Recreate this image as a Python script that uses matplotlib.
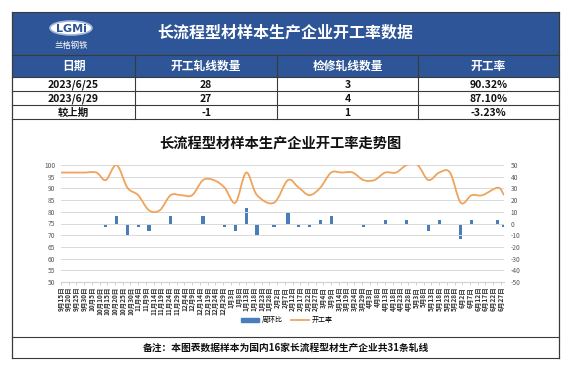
import matplotlib
matplotlib.use('Agg')
import matplotlib.pyplot as plt
import matplotlib.dates as mdates
from matplotlib.path import Path
from matplotlib.patches import PathPatch, Rectangle, Ellipse
from matplotlib.lines import Line2D
import pandas as pd

plt.rcParams['font.family'] = ['Noto Sans CJK SC', 'DejaVu Sans']

# ---- table data ----
table_title = '长流程型材样本生产企业开工率数据'
col_headers = ['日期', '开工轧线数量', '检修轧线数量', '开工率']
row_dates = ['2023/6/25', '2023/6/29', '较上期']
running_lines = ['28', '27', '-1']
repair_lines = ['3', '4', '1']
rate_text = ['90.32%', '87.10%', '-3.23%']

chart_title = '长流程型材样本生产企业开工率走势图'
note = '备注：本图表数据样本为国内16家长流程型材生产企业共31条轧线'

# ---- chart data ----
dates = ['2022-09-15', '2022-09-23', '2022-09-30', '2022-10-08', '2022-10-14',
         '2022-10-21', '2022-10-28', '2022-11-04', '2022-11-11', '2022-11-18',
         '2022-11-25', '2022-12-02', '2022-12-09', '2022-12-16', '2022-12-23',
         '2022-12-30', '2023-01-06', '2023-01-13', '2023-01-20', '2023-01-31',
         '2023-02-09', '2023-02-16', '2023-02-23', '2023-03-02', '2023-03-09',
         '2023-03-16', '2023-03-23', '2023-03-30', '2023-04-06', '2023-04-13',
         '2023-04-20', '2023-04-27', '2023-05-04', '2023-05-11', '2023-05-18',
         '2023-05-25', '2023-06-01', '2023-06-08', '2023-06-15', '2023-06-25',
         '2023-06-29']
rate = [96.77, 96.77, 96.77, 96.77, 93.55,
        100.0, 90.32, 87.10, 80.65, 80.65,
        87.10, 87.10, 87.10, 93.55, 93.55,
        90.32, 83.87, 96.77, 87.10, 83.87,
        93.55, 90.32, 87.10, 90.32, 96.77,
        96.77, 96.77, 93.55, 93.55, 96.77,
        96.77, 100.0, 100.0, 93.55, 96.77,
        96.77, 83.87, 87.10, 87.10, 90.32,
        87.10]
wow = [0, 0, 0, 0, -3.23,
       6.45, -9.68, -3.23, -6.45, 0,
       6.45, 0, 0, 6.45, 0,
       -3.23, -6.45, 12.90, -9.68, -3.23,
       9.68, -3.23, -3.23, 3.23, 6.45,
       0, 0, -3.23, 0, 3.23,
       0, 3.23, 0, -6.45, 3.23,
       0, -12.90, 3.23, 0, 3.23,
       -3.23]

W, H = 570, 367
BLUE = '#2d5597'
BORDER = '#3a3a3a'
BAR_C = '#4a7ebb'
LINE_C = '#f0a35a'


def smooth_path(x, y):
    # excel-style smoothed line: cubic bezier through every point
    n = len(x)
    verts = [(x[0], y[0])]
    codes = [Path.MOVETO]
    for i in range(n - 1):
        xp, yp = (x[i - 1], y[i - 1]) if i > 0 else (x[i], y[i])
        xn, yn = (x[i + 2], y[i + 2]) if i + 2 < n else (x[i + 1], y[i + 1])
        c1 = (x[i] + (x[i + 1] - xp) / 6, y[i] + (y[i + 1] - yp) / 6)
        c2 = (x[i + 1] - (xn - x[i]) / 6, y[i + 1] - (yn - y[i]) / 6)
        verts += [c1, c2, (x[i + 1], y[i + 1])]
        codes += [Path.CURVE4] * 3
    return Path(verts, codes)


fig = plt.figure(figsize=(W / 100, H / 100), dpi=100)

# background canvas in pixel units
bg = fig.add_axes([0, 0, 1, 1])
bg.set_xlim(0, W)
bg.set_ylim(H, 0)
bg.axis('off')

cols = [12, 135, 277, 418, 559]
bg.add_patch(Rectangle((12, 12), 547, 43, color=BLUE, lw=0))
bg.add_patch(Rectangle((12, 55), 547, 22, color=BLUE, lw=0))

# logo
bg.add_patch(Ellipse((71, 28), 42, 14, facecolor='white', edgecolor='#9fb6d9', lw=1.2))
bg.text(71, 28.5, 'LGMi', color=BLUE, fontsize=8, fontweight='bold',
        ha='center', va='center', family=['DejaVu Sans'])
bg.text(71, 45.5, '兰格钢铁', color='white', fontsize=6, style='italic',
        ha='center', va='center')

bg.text(285, 33, table_title, color='white', fontsize=11.5, fontweight='bold',
        ha='center', va='center')

centers = [(cols[i] + cols[i + 1]) / 2 for i in range(4)]
for cx, h in zip(centers, col_headers):
    bg.text(cx, 66.5, h, color='white', fontsize=8.5, fontweight='bold',
            ha='center', va='center')

row_y = [77, 91, 105, 119]
for r in range(3):
    cy = (row_y[r] + row_y[r + 1]) / 2
    vals = [row_dates[r], running_lines[r], repair_lines[r], rate_text[r]]
    for cx, v in zip(centers, vals):
        bg.text(cx, cy + 0.5, v, color='#111111', fontsize=7.5, fontweight='bold',
                ha='center', va='center')

# grid lines of table
for y in [55, 77, 91, 105, 119, 337, 358]:
    bg.plot([12, 559], [y, y], color=BORDER, lw=0.8)
bg.plot([12, 559], [12, 12], color=BORDER, lw=0.8)
for x in cols[1:-1]:
    bg.plot([x, x], [55, 119], color=BORDER, lw=0.8)
bg.plot([12, 12], [12, 358], color=BORDER, lw=0.9)
bg.plot([559, 559], [12, 358], color=BORDER, lw=0.9)

bg.text(280, 143.5, chart_title, color='#111111', fontsize=10.3, fontweight='bold',
        ha='center', va='center')
bg.text(286, 347.5, note, color='#111111', fontsize=7, fontweight='bold',
        ha='center', va='center')

# ---- chart ----
xd = mdates.date2num(pd.to_datetime(dates))
x0, x1 = mdates.date2num(pd.Timestamp('2022-09-15')), mdates.date2num(pd.Timestamp('2023-06-29'))

ax = fig.add_axes([61 / W, 1 - 282 / H, (504 - 61) / W, (282 - 165) / H])
ax2 = ax.twinx()
ax.set_zorder(ax2.get_zorder() + 1)
ax.patch.set_visible(False)

bars = ax2.bar(xd, wow, width=2.1, color=BAR_C, zorder=2, label='周环比')
ax2.set_ylim(-50, 50)
ax2.set_yticks(range(-50, 51, 10))
ax2.set_yticklabels([str(v) for v in range(-50, 51, 10)])

ax.add_patch(PathPatch(smooth_path(list(xd), rate), facecolor='none',
                       edgecolor=LINE_C, lw=1.3, zorder=3))
ax.set_ylim(50, 100)
ax.set_yticks(range(50, 101, 5))
ax.set_xlim(x0, x1)

ticks = pd.date_range('2022-09-15', '2023-06-27', freq='5D')
ax.set_xticks(mdates.date2num(ticks))
ax.set_xticklabels([f'{t.month}月{t.day}日' for t in ticks], rotation=90,
                   fontsize=4.7, color='#333333', fontweight='bold')
ax.grid(axis='y', color='#d9d9d9', lw=0.7)
ax.set_axisbelow(True)

for a in (ax, ax2):
    for s in a.spines.values():
        s.set_visible(False)
ax.spines['bottom'].set_visible(True)
ax.spines['bottom'].set_color('#d0d0d0')
ax.tick_params(axis='x', length=2, width=0.5, color='#bfbfbf', pad=1.5)
ax.tick_params(axis='y', length=0, labelsize=4.8, labelcolor='#595959', pad=4)
ax2.tick_params(axis='y', length=0, labelsize=4.8, labelcolor='#595959', pad=5)

handles = [Rectangle((0, 0), 1, 1, color=BAR_C), Line2D([0], [0], color=LINE_C, lw=1.3)]
fig.legend(handles, ['周环比', '开工率'], loc='center', ncol=2, frameon=False,
           bbox_to_anchor=(287 / W, 1 - 320 / H), fontsize=5, handlelength=2.6,
           handleheight=0.5, columnspacing=1.2, handletextpad=0.4)

fig.savefig('out.png', dpi=100)
